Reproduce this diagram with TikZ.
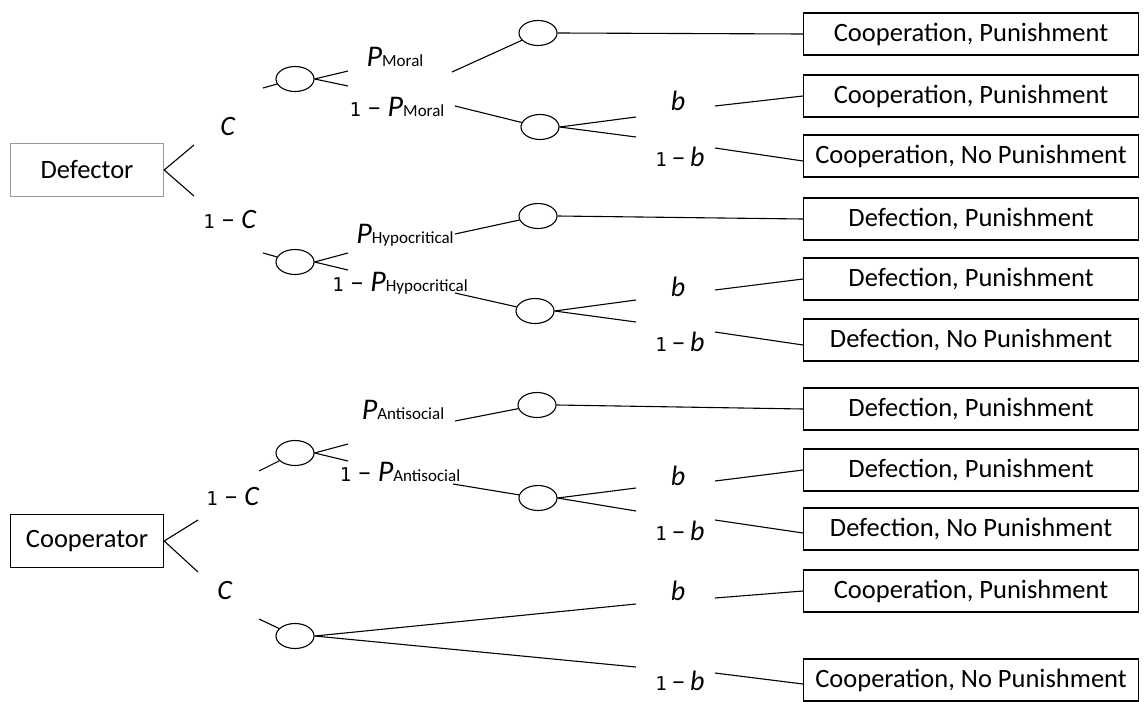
\documentclass[tikz,border=0pt]{standalone}
\usepackage{fontspec}
\setmainfont{Carlito}
\newfontfamily\digitfont{DejaVu Sans Mono}
\usetikzlibrary{shapes}

\newcommand{\one}{{\digitfont\fontsize{19}{21}\selectfont 1}}
\newcommand{\psub}[1]{{\fontsize{30}{32}\selectfont\textit{P}}{\fontsize{17}{19}\selectfont #1}}

\begin{document}
\begin{tikzpicture}[x=1pt, y=-1pt, line width=1.1pt]
\tikzstyle{outcome}=[rectangle, draw, line width=1.1pt, minimum width=335pt, minimum height=42pt, inner sep=2pt, anchor=west, font=\fontsize{26.5}{30}\selectfont]
\tikzstyle{player}=[rectangle, draw, line width=1.3pt, minimum width=153pt, minimum height=53pt, font=\fontsize{26.5}{30}\selectfont]
\tikzstyle{chance}=[ellipse, draw, line width=1.1pt, minimum width=38pt, minimum height=25pt, inner sep=0pt]
\tikzstyle{prob}=[inner sep=0pt, font=\fontsize{28}{30}\selectfont]

\useasboundingbox (0,0) rectangle (1147,701);

% outcomes
\node[outcome] (O1) at (803,34) {Cooperation, Punishment};
\node[outcome] (O2) at (803,96) {Cooperation, Punishment};
\node[outcome] (O3) at (803,156) {Cooperation, No Punishment};
\node[outcome] (O4) at (803,219) {Defection, Punishment};
\node[outcome] (O5) at (803,279) {Defection, Punishment};
\node[outcome] (O6) at (803,340) {Defection, No Punishment};
\node[outcome] (O7) at (803,409) {Defection, Punishment};
\node[outcome] (O8) at (803,470) {Defection, Punishment};
\node[outcome] (O9) at (803,529) {Defection, No Punishment};
\node[outcome] (O10) at (803,591) {Cooperation, Punishment};
\node[outcome] (O11) at (803,680) {Cooperation, No Punishment};

% defector
\node[player, draw=gray!80] (Def) at (87,170) {Defector};
\coordinate (Du) at (194,145);
\coordinate (Dl) at (194,196);
\draw (Def.east) -- (Du);
\draw (Def.east) -- (Dl);
\node[prob] (LDc) at (228,127) {\textit{C}};
\node[prob] (LDnc) at (230,220) {\one\ -- \textit{C}};

\node[chance] (M0) at (295,79) {};
\coordinate (M0in) at (263,88);
\coordinate (M0a) at (348,71);
\coordinate (M0b) at (348,86);
\draw (M0in) -- (M0);
\draw (M0.east) -- (M0a);
\draw (M0.east) -- (M0b);
\node[prob] (LMp) at (395,57) {\psub{Moral}};
\node[prob] (LMnp) at (397,107) {\one\ -- \psub{Moral}};

\node[chance] (M1) at (538,33) {};
\coordinate (M1in) at (452,72);
\draw (M1in) -- (M1);
\draw (M1.east) -- (O1.west);

\node[chance] (M2) at (540,127) {};
\coordinate (M2in) at (455,106);
\coordinate (M2a) at (636,117);
\coordinate (M2b) at (636,137);
\draw (M2in) -- (M2);
\draw (M2.east) -- (M2a);
\draw (M2.east) -- (M2b);
\node[prob] (LMb) at (678,101) {\textit{b}};
\node[prob] (LMnb) at (680,157) {\one\,--\,\textit{b}};
\coordinate (M2c) at (715,106);
\coordinate (M2d) at (715,148);
\draw (M2c) -- (O2.west);
\draw (M2d) -- ([yshift=-5pt]O3.west);

\node[chance] (H0) at (295,262) {};
\coordinate (H0in) at (263,253);
\coordinate (H0a) at (348,253);
\coordinate (H0b) at (348,270);
\draw (H0in) -- (H0);
\draw (H0.east) -- (H0a);
\draw (H0.east) -- (H0b);
\node[prob] (LHp) at (405,235) {\psub{Hypocritical}};
\node[prob] (LHnp) at (400,283) {\one\ -- \psub{Hypocritical}};

\node[chance] (H1) at (538,216) {};
\coordinate (H1in) at (455,234);
\draw (H1in) -- (H1);
\draw (H1.east) -- (O4.west);

\node[chance] (H2) at (535,311) {};
\coordinate (H2in) at (455,293);
\coordinate (H2a) at (636,300);
\coordinate (H2b) at (636,322);
\draw (H2in) -- (H2);
\draw (H2.east) -- (H2a);
\draw (H2.east) -- (H2b);
\node[prob] (LHb) at (678,287) {\textit{b}};
\node[prob] (LHnb) at (680,342) {\one\,--\,\textit{b}};
\coordinate (H2c) at (715,290);
\coordinate (H2d) at (715,332);
\draw (H2c) -- (O5.west);
\draw (H2d) -- ([yshift=-5pt]O6.west);

% cooperator
\node[player] (Coop) at (87,541) {Cooperator};
\coordinate (Cu) at (198,520);
\coordinate (Cl) at (198,572);
\draw (Coop.east) -- (Cu);
\draw (Coop.east) -- (Cl);
\node[prob] (LCnc) at (233,497) {\one\ -- \textit{C}};
\node[prob] (LCc) at (225,591) {\textit{C}};

\node[chance] (A0) at (295,453) {};
\coordinate (A0in) at (259,471);
\coordinate (A0a) at (348,444);
\coordinate (A0b) at (348,461);
\draw (A0in) -- (A0);
\draw (A0.east) -- (A0a);
\draw (A0.east) -- (A0b);
\node[prob] (LAp) at (403,410) {\psub{Antisocial}};
\node[prob] (LAnp) at (400,472) {\one\ -- \psub{Antisocial}};

\node[chance] (A1) at (537,405) {};
\coordinate (A1in) at (455,421);
\draw (A1in) -- (A1);
\draw (A1.east) -- (O7.west);

\node[chance] (A2) at (538,498) {};
\coordinate (A2in) at (453,484);
\coordinate (A2a) at (636,488);
\coordinate (A2b) at (636,511);
\draw (A2in) -- (A2);
\draw (A2.east) -- (A2a);
\draw (A2.east) -- (A2b);
\node[prob] (LAb) at (678,476) {\textit{b}};
\node[prob] (LAnb) at (680,531) {\one\,--\,\textit{b}};
\coordinate (A2c) at (715,481);
\coordinate (A2d) at (715,520);
\draw (A2c) -- (O8.west);
\draw (A2d) -- ([yshift=-4pt]O9.west);

\node[chance] (C0) at (295,636) {};
\coordinate (C0in) at (259,619);
\coordinate (C0a) at (636,604);
\coordinate (C0b) at (636,667);
\draw (C0in) -- (C0);
\draw (C0.east) -- (C0a);
\draw (C0.east) -- (C0b);
\node[prob] (LCb) at (678,591) {\textit{b}};
\node[prob] (LCnb) at (680,681) {\one\,--\,\textit{b}};
\coordinate (C0c) at (715,598);
\coordinate (C0d) at (715,673);
\draw (C0c) -- (O10.west);
\draw (C0d) -- ([yshift=-4pt]O11.west);
\end{tikzpicture}
\end{document}
